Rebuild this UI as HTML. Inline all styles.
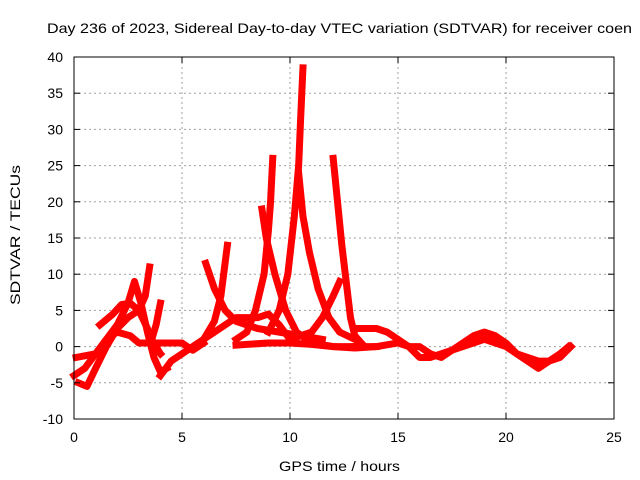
<!DOCTYPE html>
<html><head><meta charset="utf-8"><style>
body{margin:0;background:#fff;}
svg{display:block;font-family:"Liberation Sans",sans-serif;}
</style></head><body>
<svg id="chart" width="640" height="480">
<text x="47" y="33" font-size="14" textLength="585" lengthAdjust="spacingAndGlyphs">Day 236 of 2023, Sidereal Day-to-day VTEC variation (SDTVAR) for receiver coen</text>
<text x="279" y="471" font-size="14" textLength="121" lengthAdjust="spacingAndGlyphs">GPS time / hours</text>
<text transform="translate(20,305) rotate(-90)" font-size="14" textLength="140" lengthAdjust="spacingAndGlyphs">SDTVAR / TECUs</text>
<g id="grid"></g><g id="series"></g><g id="axes"></g>
</svg>
<script>
const xTicks=[0,5,10,15,20,25];
const yTicks=[-10,-5,0,5,10,15,20,25,30,35,40];
const trackA=[[0,-4],[0.5,-3],[1,-1],[1.5,1],[2,3],[2.5,6],[2.8,9],[3.1,6],[3.4,2],[3.7,-1.5],[4.0,-3.5],[4.3,-3]];
const trackB=[[0.2,-5],[0.6,-5.5],[1,-3],[1.5,0],[2,2.5],[2.5,4],[3,5],[3.3,7],[3.5,11]];
const trackC=[[0.1,-1.5],[1,-1],[1.5,1],[2,2],[2.6,1.5],[3,0.5],[3.5,0.5],[4,0.5],[4.5,0.5],[5,0.5],[5.5,-0.5],[6,0.5]];
const trackD=[[1.2,3],[1.8,4.5],[2.2,5.8],[2.6,6],[3,5],[3.4,2.5],[3.7,0],[4,-1]];
const trackE=[[4.0,6],[3.8,3],[3.6,1],[3.9,-0.5]];
const trackF=[[4,-4],[4.5,-2],[5,-1],[5.5,0],[6,1],[6.5,2],[7,3],[7.5,4],[8,4],[8.5,4],[9,4.5],[9.5,3],[10,1]];
const trackG=[[6.1,11.5],[6.5,8],[7,5],[7.5,3.5],[8.5,2.5],[9.5,2],[10.5,1.5],[11.5,1]];
const trackH=[[5.5,0],[6,1],[6.5,3.5],[6.8,7],[7.1,14]];
const trackI=[[7.5,1],[8,2],[8.4,5],[8.8,10],[9.0,16],[9.1,20],[9.2,26]];
const trackJ=[[8.7,19],[8.9,15],[9.3,10],[9.8,5],[10.3,2],[11,0.5],[12,0],[13,0]];
const trackK=[[9,2],[9.5,5],[9.9,10],[10.2,18],[10.4,25],[10.5,32],[10.6,38.5]];
const trackL=[[10.4,24],[10.6,18],[10.9,13],[11.3,8],[11.8,4],[12.3,2],[13,1]];
const trackM=[[12.0,26],[12.2,20],[12.4,14],[12.6,9],[12.8,4],[13,1.5],[13.3,0.5]];
const trackN=[[10,1],[11,2],[11.5,4],[12,7],[12.3,9]];
const trackO=[[13,2.5],[14,2.5],[14.5,2],[15,1],[15.5,0],[16,-1.5],[16.5,-1.5],[17,-1],[17.5,-0.5],[18,0.5],[18.5,1.5],[19,2],[19.5,1.5],[20,0.5],[20.5,-1],[21,-2],[21.5,-3],[22,-2],[22.5,-1],[22.9,0]];
const trackP=[[13,0],[14,0],[15,0.5],[15.5,0],[16,0],[16.5,-1],[17,-1.5],[17.5,-0.5],[18,0],[19,1],[19.5,0.5],[20,0],[20.5,-1],[21,-1.5],[21.5,-2],[22,-2],[22.5,-1.5],[23,0]];
const trackQ=[[7.5,0.2],[8,0.3],[9,0.5],[10,0.5],[11,0.3],[12,0],[13,-0.2],[14,0]];
const tracks=[trackA,trackB,trackC,trackD,trackE,trackF,trackG,trackH,trackI,trackJ,trackK,trackL,trackM,trackN,trackO,trackP,trackQ];

const X0=74,X1=614,Y0=419,Y1=57;
const xs=t=>X0+(t-0)/(25-0)*(X1-X0);
const ys=v=>Y0-(v+10)/50*(Y0-Y1);
const NS='http://www.w3.org/2000/svg';
function mk(tag,attrs,parent){const e=document.createElementNS(NS,tag);for(const k in attrs)e.setAttribute(k,attrs[k]);parent.appendChild(e);return e;}
const grid=document.getElementById('grid'),axes=document.getElementById('axes'),ser=document.getElementById('series');
xTicks.forEach(t=>{
  const x=xs(t);
  if(t>0&&t<25){const g=mk('line',{x1:x,x2:x,y1:Y0,y2:Y1,stroke:'#a0a0a0','stroke-dasharray':'2,3'},grid);
  
  }
  mk('line',{x1:x,x2:x,y1:Y0,y2:Y0-6,stroke:'#000'},axes);
  mk('line',{x1:x,x2:x,y1:Y1,y2:Y1+6,stroke:'#000'},axes);
  const l=mk('text',{x:x,y:Y0+23,'font-size':14,'text-anchor':'middle'},axes);l.textContent=t;
  
  
});
yTicks.forEach(v=>{
  const y=ys(v);
  if(v>-10&&v<40){const g=mk('line',{x1:X0,x2:X1,y1:y,y2:y,stroke:'#a0a0a0','stroke-dasharray':'2,3'},grid);
  
  }
  mk('line',{x1:X0,x2:X0+6,y1:y,y2:y,stroke:'#000'},axes);
  mk('line',{x1:X1,x2:X1-6,y1:y,y2:y,stroke:'#000'},axes);
  const l=mk('text',{x:X0-11,y:y+5,'font-size':14,'text-anchor':'end'},axes);l.textContent=v;
  
  
});
const fr=mk('rect',{x:X0,y:Y1,width:X1-X0,height:Y0-Y1,fill:'none',stroke:'#000'},axes);


tracks.forEach(tr=>{
  const p=mk('polyline',{points:tr.map(d=>xs(d[0])+','+ys(d[1])).join(' '),fill:'none',stroke:'#ff0000','stroke-width':7,'stroke-linejoin':'round','stroke-linecap':'square'},ser);
  
  
});
</script>
</body></html>
